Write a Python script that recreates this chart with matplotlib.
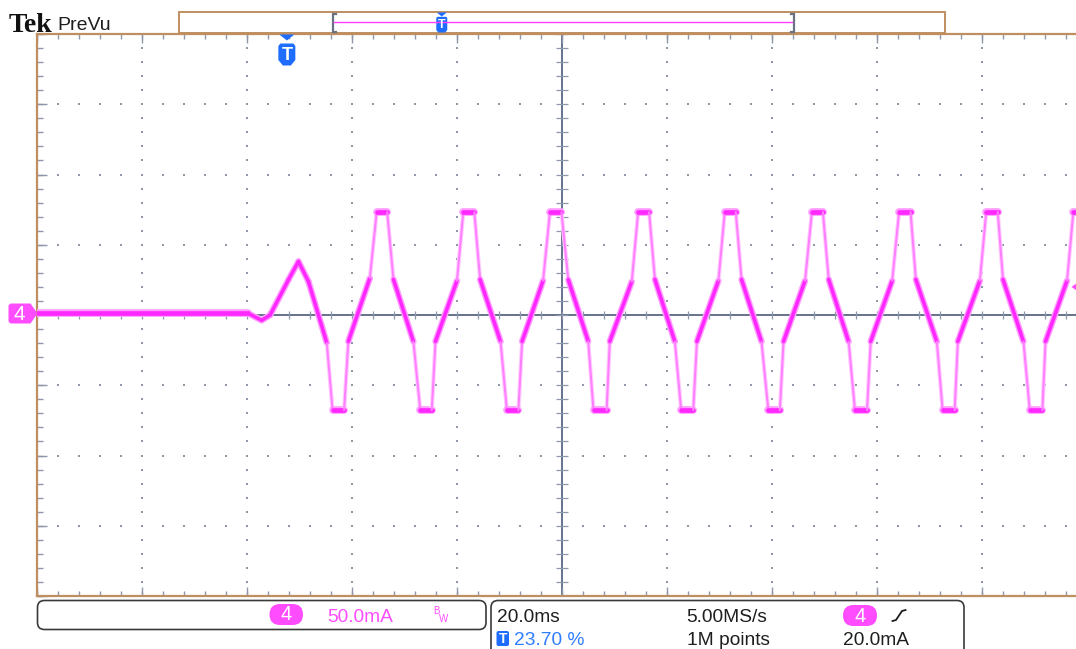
import numpy as np
import matplotlib
matplotlib.use("Agg")
import matplotlib.pyplot as plt
from matplotlib.collections import LineCollection
from matplotlib.patches import Polygon, FancyBboxPatch, Rectangle
from matplotlib.markers import TICKDOWN, TICKUP, TICKRIGHT

time_ms = [0.0, 40.2, 42.8, 44.4, 47.9, 49.8, 51.7, 55.2, 56.3, 58.5, 59.3, 63.4,
           64.7, 66.7, 67.9, 71.7, 73.0, 75.2, 75.9, 80.0,
           81.2, 83.3, 84.4, 88.3, 89.5, 91.7, 92.4, 96.4,
           97.7, 99.9, 101.2, 105.0, 106.0, 108.5, 109.1, 113.3,
           114.5, 116.6, 117.7, 121.5, 122.7, 125.0, 125.7, 129.8,
           131.0, 133.1, 134.2, 138.0, 139.3, 141.5, 142.2, 146.3,
           147.6, 149.7, 150.8, 154.6, 155.8, 158.1, 158.8, 162.9,
           164.2, 166.4, 167.4, 171.4, 172.5, 174.8, 175.4, 179.6,
           180.8, 183.0, 184.0, 187.9, 189.1, 191.5, 192.1, 196.2,
           197.4, 200.0]
current_mA = [1.2, 1.2, -3.8, 0.0, 25.1, 38.1, 23.9, -19.9, -67.8, -67.8, -18.8, 26.3,
              73.2, 73.2, 25.3, -19.0, -67.8, -67.8, -18.8, 24.5,
              73.2, 73.2, 25.3, -19.0, -67.8, -67.8, -18.8, 24.5,
              73.2, 73.2, 25.1, -18.8, -67.8, -67.8, -18.8, 23.9,
              73.2, 73.2, 25.3, -19.0, -67.8, -67.8, -18.8, 24.5,
              73.2, 73.2, 25.3, -19.0, -67.8, -67.8, -18.8, 24.5,
              73.2, 73.2, 25.3, -19.0, -67.8, -67.8, -18.8, 24.5,
              73.2, 73.2, 25.3, -19.0, -67.8, -67.8, -18.8, 24.5,
              73.2, 73.2, 25.3, -19.0, -67.8, -67.8, -18.8, 24.5,
              73.2, 73.2]

time_per_div_ms = 20.0
amp_per_div_mA = 50.0
n_hdiv = 10
n_vdiv = 8
trig_pos_pct = 23.70
trig_level_mA = 20.0

brand = "Tek"
mode = "PreVu"
ch_name = "4"
ch_scale = "50.0mA"
timebase = "20.0ms"
sample_rate = "5.00MS/s"
trig_pos_text = "23.70 %"
record_len = "1M points"
trig_level_text = "20.0mA"

# ---------------- style ----------------
W, H = 1076, 649
TAN = "#bf8f5f"
GRID = "#8f97ab"
CENTER = "#66738d"
MAG = "#ff3cff"
MAG_PILL = "#ff4cff"
BLUE = "#1f6dff"
TXT = "#1e1e1e"
SANS = ["Liberation Sans", "DejaVu Sans"]

fig = plt.figure(figsize=(W / 100, H / 100), dpi=100)
fig.patch.set_facecolor("white")

GX0, GY0 = 37, 34
DIVW, DIVH = 105.0, 70.25
GX1, GY1 = GX0 + n_hdiv * DIVW, GY0 + n_vdiv * DIVH

ax = fig.add_axes([GX0 / W, 1 - GY1 / H, (GX1 - GX0) / W, (GY1 - GY0) / H])
xmin, xmax = 0.0, n_hdiv * time_per_div_ms
ymin, ymax = -n_vdiv / 2 * amp_per_div_mA, n_vdiv / 2 * amp_per_div_mA
ax.set_xlim(xmin, xmax)
ax.set_ylim(ymin, ymax)
ax.set_xticks([])
ax.set_yticks([])
ax.set_facecolor("white")
for side in ("left", "top", "bottom"):
    ax.spines[side].set_color(TAN)
    ax.spines[side].set_linewidth(1.6)
ax.spines["right"].set_visible(False)

xc = (xmin + xmax) / 2
minor_x = np.arange(xmin, xmax + 1e-9, time_per_div_ms / 5)
minor_y = np.arange(ymin, ymax + 1e-9, amp_per_div_mA / 5)

# dotted graticule lines
for k in range(1, n_hdiv):
    if k == n_hdiv // 2:
        continue
    xv = xmin + k * time_per_div_ms
    ax.plot(np.full_like(minor_y, xv), minor_y, ls="none", marker="s", ms=1.5, mew=0,
            color=GRID, zorder=1)
for k in range(1, n_vdiv):
    if k == n_vdiv // 2:
        continue
    yv = ymin + k * amp_per_div_mA
    ax.plot(minor_x, np.full_like(minor_x, yv), ls="none", marker="s", ms=1.5, mew=0,
            color=GRID, zorder=1)

# center cross lines
ax.axhline(0, color=CENTER, lw=1.4, zorder=2)
ax.axvline(xc, color=CENTER, lw=1.4, zorder=2)
ax.plot(minor_x, np.zeros_like(minor_x), ls="none", marker="|", ms=6, mew=0.9,
        color=GRID, zorder=2)
ax.plot(np.full_like(minor_y, xc), minor_y, ls="none", marker="_", ms=8, mew=0.9,
        color=GRID, zorder=2)

# border ticks
major_x = np.arange(xmin, xmax + 1e-9, time_per_div_ms)
major_y = np.arange(ymin, ymax + 1e-9, amp_per_div_mA)
ax.plot(minor_x, np.full_like(minor_x, ymax), ls="none", marker=TICKDOWN, ms=3.5, mew=1,
        color=GRID, zorder=2, clip_on=False)
ax.plot(major_x, np.full_like(major_x, ymax), ls="none", marker=TICKDOWN, ms=6.5, mew=1,
        color=GRID, zorder=2, clip_on=False)
ax.plot(minor_x, np.full_like(minor_x, ymin), ls="none", marker=TICKUP, ms=3.5, mew=1,
        color=GRID, zorder=2, clip_on=False)
ax.plot(major_x, np.full_like(major_x, ymin), ls="none", marker=TICKUP, ms=6.5, mew=1,
        color=GRID, zorder=2, clip_on=False)
ax.plot(np.full_like(minor_y, xmin), minor_y, ls="none", marker=TICKRIGHT, ms=4, mew=1,
        color=GRID, zorder=2, clip_on=False)
ax.plot(np.full_like(major_y, xmin), major_y, ls="none", marker=TICKRIGHT, ms=7, mew=1,
        color=GRID, zorder=2, clip_on=False)

# ---------------- trace ----------------
t = np.asarray(time_ms, float)
c = np.asarray(current_mA, float)
pts = np.column_stack([t, c])
segs = np.stack([pts[:-1], pts[1:]], axis=1)
pos = ax.get_position()
sx = pos.width * W / (xmax - xmin)
sy = pos.height * H / (ymax - ymin)
slope = np.abs(np.diff(c)) * sy / np.maximum(np.abs(np.diff(t)) * sx, 1e-6)
flat = slope < 0.3
steep = slope > 7
mid = ~flat & ~steep

halo_c = np.where(steep[:, None], np.array([[1.0, 0.80, 1.0]]), np.array([[1.0, 0.62, 1.0]]))
halo_w = np.where(flat, 5.6, np.where(mid, 4.6, 3.0))
core_c = np.where(steep[:, None], np.array([[1.0, 0.50, 1.0]]), np.array([[1.0, 0.16, 1.0]]))
core_w = np.where(flat, 3.4, np.where(mid, 2.6, 1.5))

ax.add_collection(LineCollection(segs, colors=halo_c, linewidths=halo_w,
                                 capstyle="round", joinstyle="round", zorder=3))
ax.add_collection(LineCollection(segs, colors=core_c, linewidths=core_w,
                                 capstyle="round", joinstyle="round", zorder=4))

# ---------------- overlay (screen furniture) ----------------
ov = fig.add_axes([0, 0, 1, 1], zorder=5)
ov.set_xlim(0, W)
ov.set_ylim(H, 0)
ov.axis("off")
ov.patch.set_alpha(0)

ov.text(9, 31.5, brand, fontfamily=["Liberation Serif", "DejaVu Serif"], fontweight="bold",
        fontsize=20, color="#111111", va="baseline", ha="left")
ov.text(57, 29.5, mode, fontfamily=SANS, fontsize=14, color=TXT, va="baseline", ha="left")

# record bar
ov.add_patch(Rectangle((179, 12), 766, 21, fc="white", ec=TAN, lw=1.4))
for bx, d in ((332.5, 1), (793.5, -1)):
    ov.plot([bx + 3 * d, bx, bx, bx + 3 * d], [13.5, 13.5, 31.5, 31.5], color="#6a7284", lw=1.6,
            solid_joinstyle="miter")
ov.plot([334, 792], [21.5, 21.5], color=MAG, lw=1.0)
rt = 332.5 + trig_pos_pct / 100 * (793.5 - 332.5)
ov.add_patch(Polygon([(rt - 5, 12.5), (rt + 5, 12.5), (rt, 16.5)], closed=True, fc=BLUE, ec="none"))
ov.add_patch(Polygon([(rt - 5.5, 18), (rt - 4.5, 16.8), (rt + 4.5, 16.8), (rt + 5.5, 18),
                      (rt + 5.5, 30), (rt + 3.5, 32.5), (rt - 3.5, 32.5), (rt - 5.5, 30)],
                     closed=True, fc=BLUE, ec="none"))
ov.text(rt, 25, "T", fontfamily=SANS, fontweight="bold", fontsize=9, color="white",
        ha="center", va="center")

# trigger position marker on graticule
tx = GX0 + trig_pos_pct / 100 * (GX1 - GX0) + 1
ov.add_patch(Polygon([(tx - 7.5, 34.5), (tx + 7.5, 34.5), (tx, 40.5)], closed=True, fc=BLUE, ec="none"))
ov.add_patch(Polygon([(tx - 8.5, 46), (tx - 6.5, 43.5), (tx + 6.5, 43.5), (tx + 8.5, 46),
                      (tx + 8.5, 60), (tx + 4, 65.5), (tx - 4, 65.5), (tx - 8.5, 60)],
                     closed=True, fc=BLUE, ec="none"))
ov.text(tx, 55, "T", fontfamily=SANS, fontweight="bold", fontsize=13, color="white",
        ha="center", va="center")

# channel ground marker (left)
gy = 313.5
ov.add_patch(Polygon([(8.5, gy - 8), (10.5, gy - 10), (30.5, gy - 10), (37.5, gy),
                      (30.5, gy + 10), (10.5, gy + 10), (8.5, gy + 8)],
                     closed=True, fc=MAG_PILL, ec="none"))
ov.text(19.5, gy + 0.5, ch_name, fontfamily=SANS, fontsize=15, color="white",
        ha="center", va="center")

# trigger level marker (right edge)
ty = ax.transData.transform((xmin, trig_level_mA))[1]
ty = H - ty
ov.add_patch(Polygon([(1071.5, ty), (1080, ty - 6), (1080, ty + 6)], closed=True,
                     fc=MAG_PILL, ec="none"))

# bottom info boxes
ov.add_patch(FancyBboxPatch((37.5, 600.5), 448.5, 29, boxstyle="round,pad=0,rounding_size=7",
                            fc="white", ec="#3a3a3a", lw=1.2))
ov.add_patch(FancyBboxPatch((491, 600.5), 473, 70, boxstyle="round,pad=0,rounding_size=7",
                            fc="white", ec="#3a3a3a", lw=1.2, clip_on=False))

def pill(x0, x1, y0, y1):
    ov.add_patch(FancyBboxPatch((x0, y0), x1 - x0, y1 - y0,
                                boxstyle="round,pad=0,rounding_size=%g" % ((y1 - y0) / 2),
                                fc=MAG_PILL, ec="none"))
    ov.text((x0 + x1) / 2, (y0 + y1) / 2 + 0.5, ch_name, fontfamily=SANS, fontsize=14.5,
            color="white", ha="center", va="center")

FS = 13.8
pill(269.5, 303, 604, 625)
ov.text(327, 622, ch_scale, fontfamily=SANS, fontsize=FS, color=MAG_PILL, va="baseline")
ov.text(433, 614, "B", fontfamily=SANS, fontsize=7, color=MAG_PILL, va="baseline")
ov.text(438.5, 621.5, "W", fontfamily=SANS, fontsize=7, color=MAG_PILL, va="baseline")

ov.text(497, 622, timebase, fontfamily=SANS, fontsize=FS, color=TXT, va="baseline")
ov.text(686, 622, sample_rate, fontfamily=SANS, fontsize=FS, color=TXT, va="baseline")
pill(843, 877, 605, 626)
ov.plot([892.5, 896, 902, 905.5], [621, 620, 611, 610], color=TXT, lw=1.3)

ov.add_patch(FancyBboxPatch((496.5, 631), 12.5, 15, boxstyle="round,pad=0,rounding_size=2",
                            fc=BLUE, ec="none"))
ov.text(502.8, 638.8, "T", fontfamily=SANS, fontweight="bold", fontsize=10, color="white",
        ha="center", va="center")
ov.text(514, 645, trig_pos_text, fontfamily=SANS, fontsize=FS, color="#2f7dff", va="baseline")
ov.text(687, 645, record_len, fontfamily=SANS, fontsize=FS, color=TXT, va="baseline")
ov.text(843, 645, trig_level_text, fontfamily=SANS, fontsize=FS, color=TXT, va="baseline")

fig.savefig("out.png", dpi=100, facecolor="white")
